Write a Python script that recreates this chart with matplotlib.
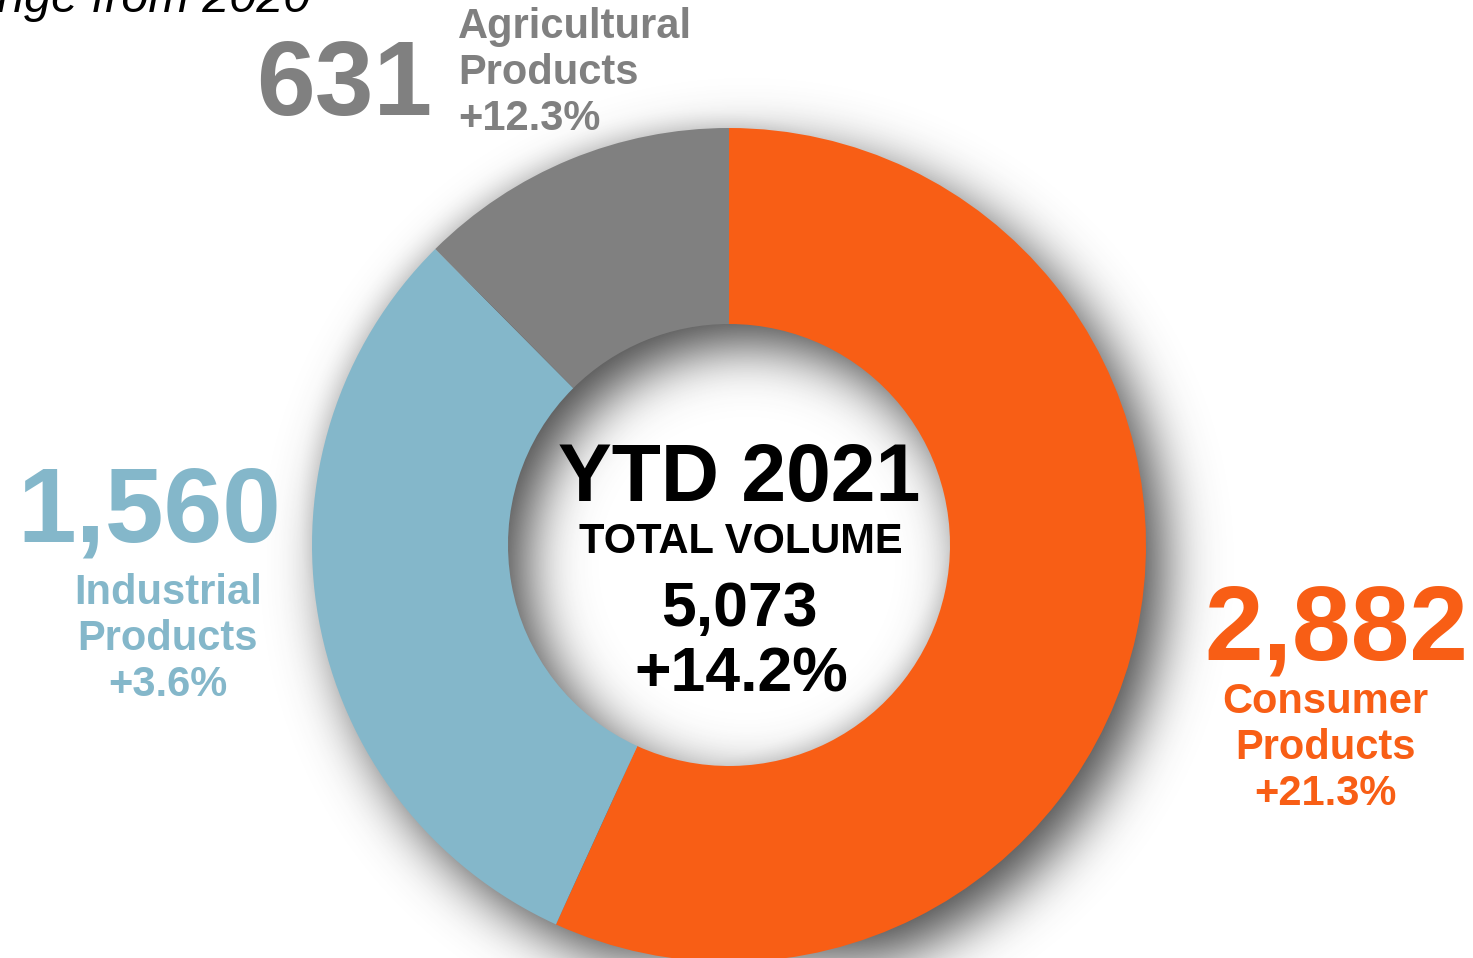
import numpy as np
import matplotlib
matplotlib.use("Agg")
import matplotlib.pyplot as plt

plt.rcParams['font.family'] = ['Liberation Sans', 'DejaVu Sans']

W, H = 1473, 958

segments = ['Consumer\nProducts', 'Industrial\nProducts', 'Agricultural\nProducts']
volumes = [2882, 1560, 631]
changes = ['+21.3%', '+3.6%', '+12.3%']
colors = ['#F85E15', '#84B7CA', '#808080']

total_volume = 5073
total_change = '+14.2%'
period = 'YTD 2021'

# donut geometry, in pixels (y measured from the top)
CX, CY = 729, 545
R_OUT, R_IN = 417, 221


def fy(y):
    return H - y


def blur(img, sigma):
    pad = int(4 * sigma)
    a = np.pad(img, pad)
    ky = np.fft.fftfreq(a.shape[0])
    kx = np.fft.rfftfreq(a.shape[1])
    g = np.exp(-2 * (np.pi * sigma) ** 2 * (ky[:, None] ** 2 + kx[None, :] ** 2))
    out = np.fft.irfft2(np.fft.rfft2(a) * g, s=a.shape)
    return out[pad:-pad, pad:-pad]


def ring_mask(dx, dy):
    rows, cols = np.mgrid[0:H, 0:W]
    d = np.hypot(cols + 0.5 - (CX + dx), rows + 0.5 - (CY + dy))
    return ((d <= R_OUT) & (d >= R_IN)).astype(float)


def shadow_rgba(alpha, grey=0.2):
    rgba = np.zeros((H, W, 4))
    rgba[..., :3] = grey
    rgba[..., 3] = np.clip(alpha, 0, 1)
    return rgba


fig = plt.figure(figsize=(W / 100, H / 100), dpi=100)
ax = fig.add_axes([0, 0, 1, 1])

# drop shadow down-right of the ring, plus a soft even glow inside the hole
drop = blur(ring_mask(18, 20), 27) * 0.9
glow = blur(ring_mask(0, 0), 16) * 0.5
ax.imshow(shadow_rgba(np.maximum(drop, glow)), extent=(0, W, 0, H), origin='upper',
          interpolation='bilinear', zorder=0)

ax.pie(volumes, colors=colors, startangle=90, counterclock=False,
       center=(CX, fy(CY)), radius=R_OUT,
       wedgeprops=dict(width=R_OUT - R_IN, linewidth=0, zorder=2))

ax.set_xlim(0, W)
ax.set_ylim(0, H)
ax.set_aspect('equal')
ax.axis('off')

# headline cut off at the top edge
ax.text(310, fy(12), '% change from 2020', ha='right', va='baseline',
        fontsize=35, fontstyle='italic', color='black', zorder=5)

# segment labels: big number plus name and change
big = 76
small = 30
lab = dict(va='baseline', fontweight='bold', fontsize=small, linespacing=1.2)

# Consumer
ax.text(1336, fy(659), f'{volumes[0]:,}', ha='center', va='baseline',
        fontsize=big, fontweight='bold', color=colors[0])
ax.text(1325, fy(805), f'{segments[0]}\n{changes[0]}', ha='center',
        color=colors[0], **lab)

# Industrial
ax.text(149, fy(542), f'{volumes[1]:,}', ha='center', va='baseline',
        fontsize=big, fontweight='bold', color=colors[1])
ax.text(168, fy(696), f'{segments[1]}\n{changes[1]}', ha='center',
        color=colors[1], **lab)

# Agricultural
ax.text(344, fy(115), f'{volumes[2]:,}', ha='center', va='baseline',
        fontsize=big, fontweight='bold', color=colors[2])
ax.text(458, fy(130), f'{segments[2]}\n{changes[2]}', ha='left',
        color=colors[2], **lab)

# centre of the donut
ax.text(739, fy(501), period, ha='center', va='baseline', fontsize=58,
        fontweight='bold', color='black', zorder=5)
ax.text(741, fy(553), 'TOTAL VOLUME', ha='center', va='baseline', fontsize=30,
        fontweight='bold', color='black', zorder=5)
ax.text(739, fy(626), f'{total_volume:,}', ha='center', va='baseline', fontsize=45,
        fontweight='bold', color='black', zorder=5)
ax.text(741, fy(692), total_change, ha='center', va='baseline', fontsize=45,
        fontweight='bold', color='black', zorder=5)

fig.savefig('out.png', dpi=100, facecolor='white')
